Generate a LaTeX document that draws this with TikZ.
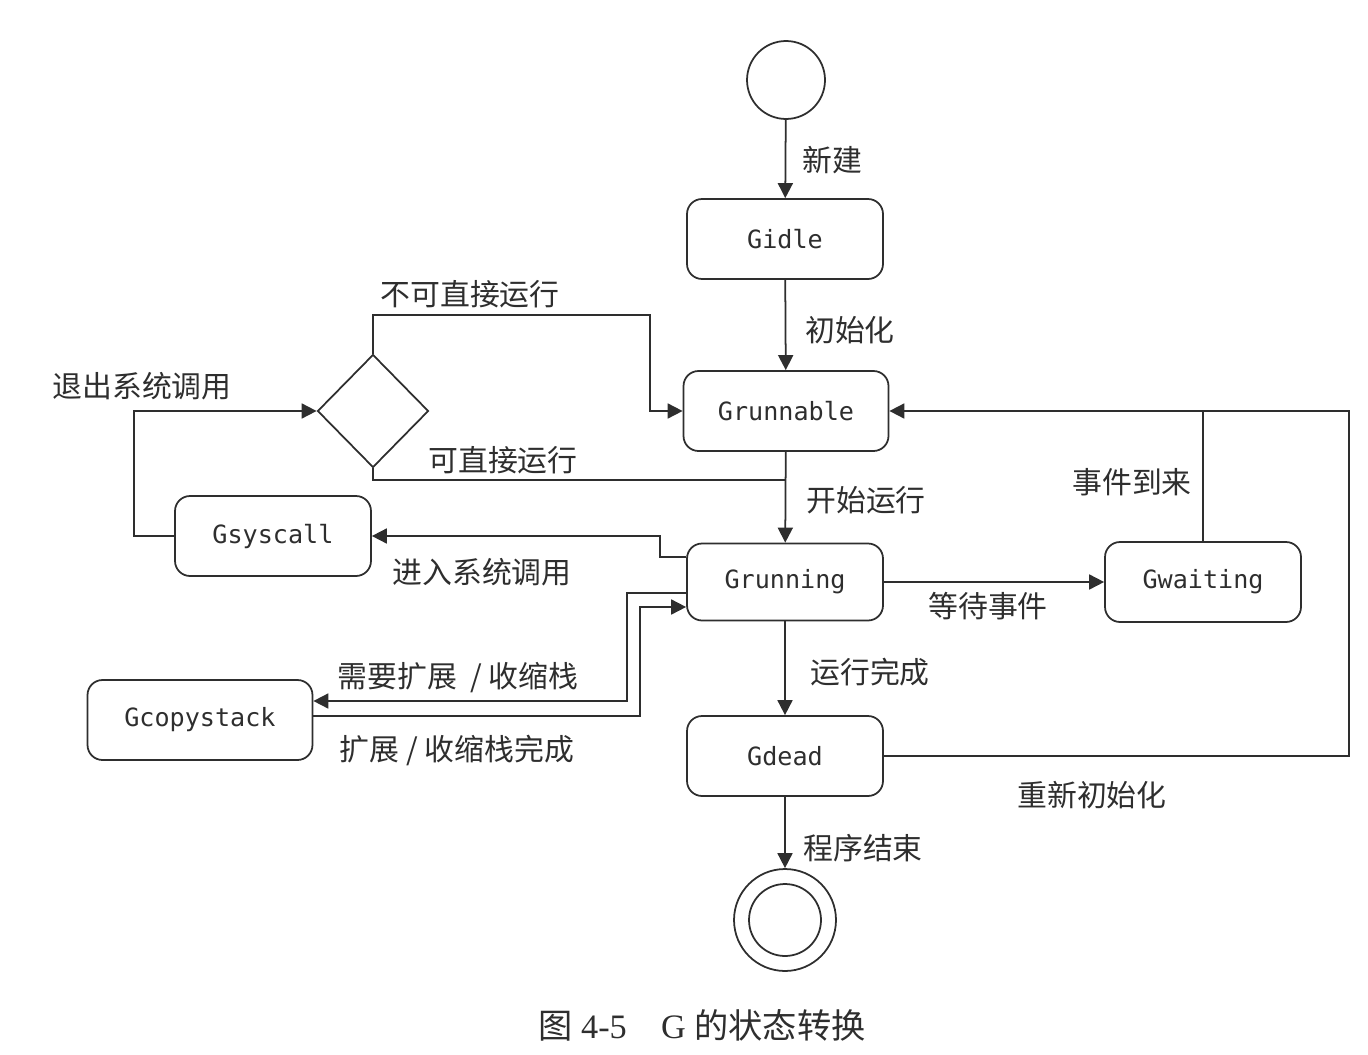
\documentclass[tikz,border=0pt]{standalone}
\usepackage{fontspec}
\setmainfont{Liberation Serif}
\setmonofont{DejaVu Sans Mono}
\newfontfamily\cjk{Noto Sans CJK SC}
\usetikzlibrary{shapes.geometric,arrows.meta}

\begin{document}
\begin{tikzpicture}[x=0.02cm, y=-0.02cm, color=black!82,
    st/.style={draw, line width=1pt, rounded corners=0.3cm,
      minimum width=3.92cm, minimum height=1.6cm,
      font=\fontsize{14.3}{16}\selectfont\ttfamily},
    lbl/.style={font=\fontsize{17}{19}\selectfont\cjk}]
  \useasboundingbox (0,0) rectangle (1368,1054);
  \begin{scope}
    \node[circle, draw, line width=1pt, minimum size=1.56cm] (start) at (786,80) {};
    \node[st] (idle) at (785,239) {Gidle};
    \node[st, minimum width=4.1cm] (rnb) at (786,411) {Grunnable};
    \node[st, minimum height=1.54cm] (rng) at (785,582) {Grunning};
    \node[st] (dead) at (785,756) {Gdead};
    \node[st] (wait) at (1203,582) {Gwaiting};
    \node[st] (sys) at (273,536) {Gsyscall};
    \node[st, minimum width=4.5cm] (cps) at (200,720) {Gcopystack};
    \node[diamond, draw, line width=1pt, inner sep=0pt, minimum width=2.22cm,
      minimum height=2.26cm] (dia) at (373,411) {};
    \node[circle, draw, line width=1pt, minimum size=2.04cm] (end) at (785,920) {};
    \node[circle, draw, line width=1pt, minimum size=1.44cm] (endin) at (785,920) {};
    \coordinate (join) at (785,480);
  \end{scope}

  \begin{scope}[->, >={Triangle[length=8.5pt,width=8.5pt]}, line width=1pt]
    \draw (start) -- (idle);
    \draw (idle) -- (rnb);
    \draw (rnb) -- (rng);
    \draw[-] (dia.south) |- (join);
    \draw (dia.north) |- (650,315) |- (rnb.west);
    \draw (sys.west) -| (134,411) -- (dia.west);
    \draw (rng.west |- 0,557) -| (660,536) -- (sys.east);
    \draw (rng.west |- 0,593) -| (627,701) -- (cps.east |- 0,701);
    \draw (cps.east |- 0,716) -| (640,607) -- (rng.west |- 0,607);
    \draw (rng) -- (wait);
    \draw (dead.east) -| (1349,411) -- (rnb.east);
    \draw[-] (wait.north) -- (wait.north |- rnb.east);
    \draw (rng) -- (dead);
    \draw (dead) -- (end);
  \end{scope}

  \begin{scope}[lbl]
    \node (xinjian) at (832,160) {新建};
    \node (chushihua) at (850,330) {初始化};
    \node (kaishi) at (866,500) {开始运行};
    \node (kezhijie) at (503,460) {可直接运行};
    \node (bukezhijie) at (470,294) {不可直接运行};
    \node (tuichu) at (142,386) {退出系统调用};
    \node (jinru) at (482,572) {进入系统调用};
    \node (dengdai) at (988,606) {等待事件};
    \node (shijian) at (1132,482) {事件到来};
    \node (wancheng) at (870,672) {运行完成};
    \node (xuyao) at (458,678) {需要扩展\ \ / 收缩栈};
    \node (kuozhan) at (457,750) {扩展 / 收缩栈完成};
    \node (chongxin) at (1092,795) {重新初始化};
    \node (jieshu) at (863,848) {程序结束};
  \end{scope}

  \node[font=\fontsize{19.5}{22}\selectfont] (title) at (702,1025)
    {{\cjk 图} 4-5\quad G {\cjk 的状态转换}};
\end{tikzpicture}
\end{document}
